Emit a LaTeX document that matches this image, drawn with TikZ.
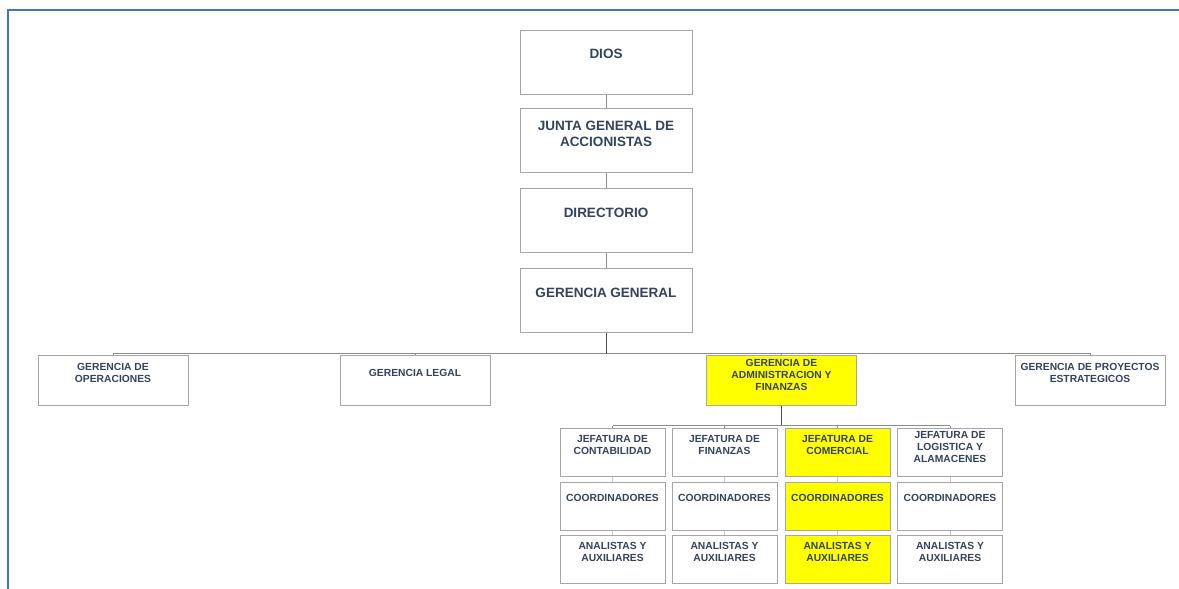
\documentclass[tikz,border=0pt]{standalone}
\usepackage{fontspec}
\setmainfont{Liberation Sans}
\usetikzlibrary{positioning}
\definecolor{marco}{HTML}{4472C4}
\definecolor{borde}{HTML}{A6A6A6}
\definecolor{letra}{HTML}{34435C}
\definecolor{amarillo}{HTML}{FFFF00}
\definecolor{linea}{HTML}{8C8C8C}
% caja de texto: [subida], ancho, alto, texto
\newcommand{\caja}[4][14pt]{\parbox[c][#3][c]{#2}{\centering #4\par\vspace{#1}}}

\begin{document}
\begin{tikzpicture}[x=1pt,y=-1pt,
 cargo/.style={draw=borde,fill=white,line width=1pt,inner sep=0pt,text=letra,font=\bfseries\fontsize{13.5}{16}\selectfont},
 gerencia/.style={cargo,font=\bfseries\fontsize{10.3}{12.3}\selectfont},
 destacado/.style={fill=amarillo},
 conector/.style={draw=linea,line width=0.9pt}]

\useasboundingbox (0,0) rectangle (1179,589);
\draw[marco,line width=2pt] (8,589) -- (8,10) -- (1179,10);

% direccion
\node[cargo] (dios) at (606,62) {\caja[16pt]{172pt}{64pt}{DIOS}};
\node[cargo] (junta) at (606,140.5) {\caja{172pt}{64pt}{JUNTA GENERAL DE\\ACCIONISTAS}};
\node[cargo] (directorio) at (606,220.5) {\caja[16pt]{172pt}{64pt}{DIRECTORIO}};
\node[cargo] (general) at (606,300.5) {\caja[16pt]{172pt}{64pt}{GERENCIA GENERAL}};

% gerencias
\node[gerencia] (operaciones) at (113,380) {\caja{150pt}{50pt}{GERENCIA DE\\OPERACIONES}};
\node[gerencia] (legal) at (415,380) {\caja{150pt}{50pt}{GERENCIA LEGAL}};
\node[gerencia,destacado] (administracion) at (781.5,380) {\caja[10pt]{150pt}{50pt}{GERENCIA DE\\ADMINISTRACION Y\\FINANZAS}};
\node[gerencia] (proyectos) at (1090,380) {\caja{150pt}{50pt}{GERENCIA DE PROYECTOS\\ESTRATEGICOS}};

% jefaturas
\node[gerencia] (jcont) at (612.5,452) {\caja{105pt}{48pt}{JEFATURA DE\\CONTABILIDAD}};
\node[gerencia] (jfin) at (724.5,452) {\caja{105pt}{48pt}{JEFATURA DE\\FINANZAS}};
\node[gerencia,destacado] (jcom) at (837.5,452) {\caja{105pt}{48pt}{JEFATURA DE\\COMERCIAL}};
\node[gerencia] (jlog) at (950,452) {\caja[10pt]{105pt}{48pt}{JEFATURA DE\\LOGISTICA Y\\ALAMACENES}};

\node[gerencia] (coord1) at (612.5,506) {\caja[16pt]{105pt}{48pt}{COORDINADORES}};
\node[gerencia] (coord2) at (724.5,506) {\caja[16pt]{105pt}{48pt}{COORDINADORES}};
\node[gerencia,destacado] (coord3) at (837.5,506) {\caja[16pt]{105pt}{48pt}{COORDINADORES}};
\node[gerencia] (coord4) at (950,506) {\caja[16pt]{105pt}{48pt}{COORDINADORES}};

\node[gerencia] (anal1) at (612.5,559) {\caja{105pt}{48pt}{ANALISTAS Y\\AUXILIARES}};
\node[gerencia] (anal2) at (724.5,559) {\caja{105pt}{48pt}{ANALISTAS Y\\AUXILIARES}};
\node[gerencia,destacado] (anal3) at (837.5,559) {\caja{105pt}{48pt}{ANALISTAS Y\\AUXILIARES}};
\node[gerencia] (anal4) at (950,559) {\caja{105pt}{48pt}{ANALISTAS Y\\AUXILIARES}};

% lineas
\draw[conector] (dios) -- (junta);
\draw[conector] (junta) -- (directorio);
\draw[conector] (directorio) -- (general);
\draw[conector,draw=black!70] (general.south) -- ++(0,20) coordinate (bus1);
\draw[conector] (operaciones.north |- bus1) -- (proyectos.north |- bus1);
\foreach \g in {operaciones,legal,administracion,proyectos}
  \draw[conector] (\g.north |- bus1) -- (\g.north);
\draw[conector,draw=black!70] (administracion.south) -- ++(0,20) coordinate (bus2);
\draw[conector] (jcont.north |- bus2) -- (jlog.north |- bus2);
\foreach \j in {jcont,jfin,jcom,jlog}
  \draw[conector] (\j.north |- bus2) -- (\j.north);
\foreach \j/\c/\a in {jcont/coord1/anal1,jfin/coord2/anal2,jcom/coord3/anal3,jlog/coord4/anal4}
  \draw[conector,draw=borde!60] (\j) -- (\c) (\c) -- (\a);
\end{tikzpicture}
\end{document}
